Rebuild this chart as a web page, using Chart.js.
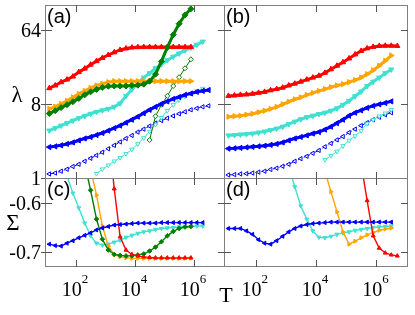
<!DOCTYPE html>
<html>
<head>
<meta charset="utf-8">
<script src="https://cdn.jsdelivr.net/npm/chart.js@4/dist/chart.umd.min.js"></script>
<style>
  body { margin: 0; background: #fff; }
  #wrap { position: relative; width: 415px; height: 315px; }
  canvas { position: absolute; left: 0; top: 0; }
</style>
</head>
<body>
<div id="wrap">
  <canvas id="pa" width="415" height="315"></canvas>
  <canvas id="pb" width="415" height="315"></canvas>
  <canvas id="pc" width="415" height="315"></canvas>
  <canvas id="pd" width="415" height="315"></canvas>
</div>
<script>
// temperature grid shared by every curve
const T = [12.6, 20, 31.6, 50.1, 79.4, 126, 200, 316, 501, 794, 1260, 2000, 3160, 5010, 7940,
  12600, 20000, 31600, 50100, 79400, 126000, 200000, 316000, 501000, 794000,
  1260000, 2000000, 3160000, 5010000];

// axis ticks
const xTicks = [1e2, 1e4, 1e6];
const xExp = ['2', '4', '6'];
const lamTicks = [1, 8, 64];
const lamLabels = ['1', '8', '64'];
const sigTicks = [-0.6, -0.7];
const sigLabels = ['-0.6', '-0.7'];

// panel (a): lambda, each curve starts at T[0] unless noted
const redA = [12.4, 13.4, 14.7, 15.8, 17.2, 19.5, 21.5, 24, 26.5, 29, 31.5, 34, 36.3, 37.8, 38.8, 39.2, 39.3, 39.3, 39.3, 39.3, 39.3, 39.3, 39.3, 39.3, 39.3];
const orangeA = [6.96, 7.4, 8.0, 8.7, 9.6, 10.6, 11.5, 12.5, 13.4, 14.1, 14.7, 15.1, 15.1, 15.1, 15.1, 15.1, 15.1, 15.1, 15.1, 15.1, 15.1, 15.1, 15.1, 15.1, 15.1];
const greenA = [6.1, 6.6, 7.2, 7.8, 8.5, 9.3, 10.3, 11.2, 12.0, 12.7, 13.1, 13.2, 13.2, 13.2, 13.4, 13.5, 13.9, 15.1, 18.4, 26.3, 39, 55.7, 75.7, 97, 115];
const turqA = [3.78, 4.05, 4.35, 4.66, 5.0, 5.35, 5.7, 6.06, 6.4, 6.67, 6.96, 7.36, 8.1, 10, 12, 14.3, 16.7, 18.9, 21.7, 24.3, 27.2, 30, 32.9, 35.8, 38.8, 42, 45.9];
const blueA = [2.38, 2.43, 2.5, 2.6, 2.71, 2.87, 3.03, 3.16, 3.34, 3.53, 3.78, 4.05, 4.35, 4.72, 5.13, 5.59, 6.15, 6.77, 7.36, 8.0, 8.57, 9.2, 9.7, 10.3, 10.7, 11.2, 11.5, 11.8];
const blueThinA = [1.12, 1.15, 1.21, 1.28, 1.38, 1.47, 1.6, 1.74, 1.89, 2.06, 2.27, 2.5, 2.75, 3.03, 3.3, 3.63, 3.94, 4.29, 4.66, 5.0, 5.35, 5.7, 6.06, 6.4, 6.77, 7.06, 7.36, 7.57];
const turqThinA = [1.13, 1.28, 1.43, 1.6, 1.77, 1.97, 2.23, 2.6, 3.07, 3.68, 4.47, 5.42, 6.6, 7.78, 8.93, 9.87, 10.7, 11.5, 12.3]; // from T[8]
const greenThinA = [2.9, 5.66, 7.8, 10, 13.2, 16.9, 21.7, 27.9]; // from T[17]

// panel (b)
const redB = [10, 10.1, 10.3, 10.4, 10.6, 10.9, 11.2, 11.7, 12.1, 12.6, 13.4, 14.1, 14.9, 15.8, 16.7, 17.6, 19.1, 21.1, 23.3, 25.7, 28.6, 32, 35.3, 37.9, 39.5, 40.6, 40.8, 40.8, 40.6];
const orangeB = [5.57, 5.66, 5.74, 5.9, 6.06, 6.32, 6.6, 6.96, 7.36, 7.9, 8.5, 9.1, 9.6, 10.3, 10.9, 11.5, 12.1, 12.8, 13.4, 13.9, 14.7, 15.6, 16.7, 18.4, 20.5, 23.3, 26.8, 31.1];
const turqB = [3.3, 3.34, 3.39, 3.43, 3.48, 3.58, 3.68, 3.84, 4.0, 4.22, 4.53, 4.86, 5.2, 5.5, 5.74, 6.02, 6.24, 6.6, 7.06, 7.78, 8.7, 9.9, 11.3, 13.2, 14.9, 16.7, 18.9, 21];
const blueB = [2.28, 2.3, 2.33, 2.36, 2.4, 2.43, 2.47, 2.53, 2.6, 2.71, 2.87, 3.03, 3.16, 3.3, 3.48, 3.63, 3.89, 4.22, 4.66, 5.13, 5.74, 6.24, 6.67, 7.15, 7.57, 7.9, 8.22, 8.57];
const blueThinB = [1.09, 1.1, 1.12, 1.13, 1.15, 1.18, 1.21, 1.27, 1.32, 1.39, 1.47, 1.6, 1.72, 1.84, 2.0, 2.17, 2.4, 2.64, 2.91, 3.2, 3.58, 3.94, 4.35, 4.72, 5.13, 5.5, 5.9, 6.24];
const turqThinB = [1.67, 1.87, 2.11, 2.46, 2.87, 3.25, 3.78, 4.6, 5.13, 5.66, 6.15, 6.77]; // from T[16]

// panel (c): sigma
const blueC = [-0.684, -0.687, -0.688, -0.682, -0.677, -0.671, -0.666, -0.661, -0.655, -0.651, -0.648, -0.645, -0.644, -0.643, -0.642, -0.641, -0.641, -0.641, -0.641, -0.640, -0.640, -0.640, -0.640, -0.640, -0.640, -0.640, -0.640];
const turqC = [-0.51, -0.545, -0.580, -0.610, -0.641, -0.667, -0.682, -0.686, -0.684, -0.680, -0.676, -0.670, -0.666, -0.662, -0.659, -0.657, -0.654, -0.652, -0.651, -0.650, -0.649, -0.648, -0.648, -0.647, -0.647]; // from T[2]
const greenC = [-0.52, -0.574, -0.633, -0.674, -0.696, -0.705, -0.707, -0.708, -0.708, -0.706, -0.704, -0.698, -0.690, -0.679, -0.667, -0.658, -0.652, -0.649, -0.648]; // from T[6]
const orangeC = [-0.53, -0.584, -0.647, -0.688, -0.705, -0.710, -0.712, -0.713, -0.713, -0.713, -0.713, -0.713, -0.713, -0.713, -0.713, -0.713, -0.713, -0.713]; // from T[7]
const redC = [-0.451, -0.571, -0.669, -0.696, -0.705, -0.708, -0.710, -0.711, -0.712, -0.712, -0.712, -0.712, -0.712, -0.712, -0.712]; // from T[10]

// panel (d)
const blueD = [-0.652, -0.652, -0.652, -0.657, -0.664, -0.675, -0.682, -0.684, -0.677, -0.668, -0.659, -0.652, -0.647, -0.644, -0.642, -0.641, -0.640, -0.639, -0.639, -0.639, -0.639, -0.639, -0.639, -0.639, -0.639, -0.639, -0.639, -0.639];
const turqD = [-0.488, -0.527, -0.567, -0.606, -0.633, -0.657, -0.670, -0.671, -0.668, -0.664, -0.661, -0.659, -0.656, -0.654, -0.652, -0.650, -0.649, -0.648, -0.647]; // from T[9]
const orangeD = [-0.495, -0.535, -0.577, -0.618, -0.659, -0.684, -0.678, -0.671, -0.665, -0.660, -0.656, -0.653, -0.651]; // from T[15]
const redD = [-0.52, -0.595, -0.667, -0.692, -0.702, -0.706, -0.708]; // from T[22]

const serif = '"Liberation Serif", "DejaVu Serif", serif';
const sans = '"Liberation Sans", Arial, sans-serif';

// colour + marker per family
const RED = ['#ff0000', 'triangle', 0];
const ORANGE = ['#ffa500', 'triangle', 90];
const TURQ = ['#40e0d0', 'triangle', 180];
const BLUE = ['#0000ff', 'triangle', 270];
const GREEN = ['#008000', 'rectRot', 0];

function pts(start, vals) {
  return vals.map((v, i) => ({ x: T[start + i], y: v }));
}

function curve(fam, start, vals, kind) {
  const [c, shape, rot] = fam;
  const ds = {
    data: pts(start, vals),
    borderColor: c,
    pointBorderColor: c,
    pointBackgroundColor: c,
    pointStyle: shape,
    rotation: rot,
    clip: 0,
    tension: 0
  };
  if (kind === 'thick') {
    Object.assign(ds, { borderWidth: 3, pointRadius: 3, pointBorderWidth: 1 });
  } else if (kind === 'thin') {
    Object.assign(ds, { borderWidth: 1, pointRadius: 2.5, pointBorderWidth: 1, pointBackgroundColor: '#fff' });
  } else {
    Object.assign(ds, { borderWidth: 1.4, pointRadius: 2.3, pointBorderWidth: 1 });
  }
  return ds;
}

// frame, inward ticks, labels
const panelDeco = {
  id: 'panelDeco',
  afterDatasetsDraw(chart, args, o) {
    const { ctx, chartArea: a } = chart;
    const x = chart.scales.x, y = chart.scales.y;
    ctx.save();
    ctx.strokeStyle = '#808080';
    ctx.lineWidth = 1;
    ctx.strokeRect(a.left + 0.5, a.top + 0.5, a.right - a.left, a.bottom - a.top);

    ctx.strokeStyle = '#555';
    ctx.beginPath();
    xTicks.forEach(v => {
      const px = Math.round(x.getPixelForValue(v)) + 0.5;
      ctx.moveTo(px, a.top); ctx.lineTo(px, a.top + 7);
      ctx.moveTo(px, a.bottom + 1); ctx.lineTo(px, a.bottom - 6);
    });
    o.yTicks.forEach(v => {
      const py = Math.round(y.getPixelForValue(v)) + 0.5;
      ctx.moveTo(a.left - (o.yLabels ? 4 : 0), py); ctx.lineTo(a.left + 7, py);
      ctx.moveTo(a.right + 1, py); ctx.lineTo(a.right - 6, py);
    });
    ctx.stroke();

    ctx.fillStyle = '#000';
    ctx.textBaseline = 'alphabetic';
    if (o.yLabels) {
      ctx.font = '20px ' + serif;
      ctx.textAlign = 'right';
      o.yTicks.forEach((v, i) => ctx.fillText(o.yLabels[i], 41, y.getPixelForValue(v) + 7));
      ctx.font = '23px ' + serif;
      ctx.textAlign = 'center';
      ctx.fillText(o.yTitle[0], o.yTitle[1], o.yTitle[2]);
    }
    if (o.xLabels) {
      ctx.textAlign = 'left';
      xTicks.forEach((v, i) => {
        const px = x.getPixelForValue(v);
        ctx.font = '20px ' + serif;
        ctx.fillText('10', px - 14, 296);
        const w = ctx.measureText('10').width;
        ctx.font = '13px ' + serif;
        ctx.fillText(xExp[i], px - 14 + w, 283);
      });
    }
    if (o.xTitle) {
      ctx.font = '22px ' + serif;
      ctx.textAlign = 'center';
      ctx.fillText(o.xTitle, 226, 302);
    }
    ctx.font = '20px ' + sans;
    ctx.textAlign = 'left';
    ctx.fillText(o.tag, a.left + 2, a.top + 18);
    ctx.restore();
  }
};

function panel(id, box, yScale, datasets, deco) {
  new Chart(document.getElementById(id), {
    type: 'line',
    data: { datasets: datasets },
    options: {
      responsive: false,
      animation: false,
      events: [],
      layout: { padding: { left: box[0], top: box[1], right: 415 - box[2], bottom: 315 - box[3] } },
      scales: {
        x: { type: 'logarithmic', display: false, min: 9, max: 1.05e7 },
        y: Object.assign({ display: false }, yScale)
      },
      plugins: { legend: { display: false }, tooltip: { enabled: false }, panelDeco: deco }
    },
    plugins: [panelDeco]
  });
}

const lamScale = { type: 'logarithmic', min: 1, max: 128 };
const sigScale = { type: 'linear', min: -0.7286, max: -0.549 };

panel('pa', [45, 3, 224, 178], lamScale, [
  curve(GREEN, 0, greenA, 'thick'),
  curve(RED, 0, redA, 'thick'),
  curve(ORANGE, 0, orangeA, 'thick'),
  curve(TURQ, 0, turqA, 'thick'),
  curve(BLUE, 0, blueA, 'thick'),
  curve(GREEN, 17, greenThinA, 'thin'),
  curve(TURQ, 8, turqThinA, 'thin'),
  Object.assign(curve(BLUE, 0, blueThinA, 'thin'), { borderDash: [4, 2, 1, 2] })
], { tag: '(a)', yTicks: lamTicks, yLabels: lamLabels, yTitle: ['λ', 17, 102] });

panel('pb', [224, 3, 407, 178], lamScale, [
  curve(RED, 0, redB, 'thick'),
  curve(ORANGE, 0, orangeB, 'thick'),
  curve(TURQ, 0, turqB, 'thick'),
  curve(BLUE, 0, blueB, 'thick'),
  curve(TURQ, 16, turqThinB, 'thin'),
  Object.assign(curve(BLUE, 0, blueThinB, 'thin'), { borderDash: [4, 2, 1, 2] })
], { tag: '(b)', yTicks: lamTicks });

panel('pc', [45, 178, 224, 266], sigScale, [
  curve(BLUE, 0, blueC, 'small'),
  curve(RED, 10, redC, 'small'),
  curve(GREEN, 6, greenC, 'small'),
  curve(ORANGE, 7, orangeC, 'small'),
  curve(TURQ, 2, turqC, 'small')
], { tag: '(c)', yTicks: sigTicks, yLabels: sigLabels, yTitle: ['Σ', 13, 230], xLabels: true, xTitle: 'T' });

panel('pd', [224, 178, 407, 266], sigScale, [
  curve(BLUE, 0, blueD, 'small'),
  curve(RED, 22, redD, 'small'),
  curve(ORANGE, 15, orangeD, 'small'),
  curve(TURQ, 9, turqD, 'small')
], { tag: '(d)', yTicks: sigTicks, xLabels: true });
</script>
</body>
</html>
